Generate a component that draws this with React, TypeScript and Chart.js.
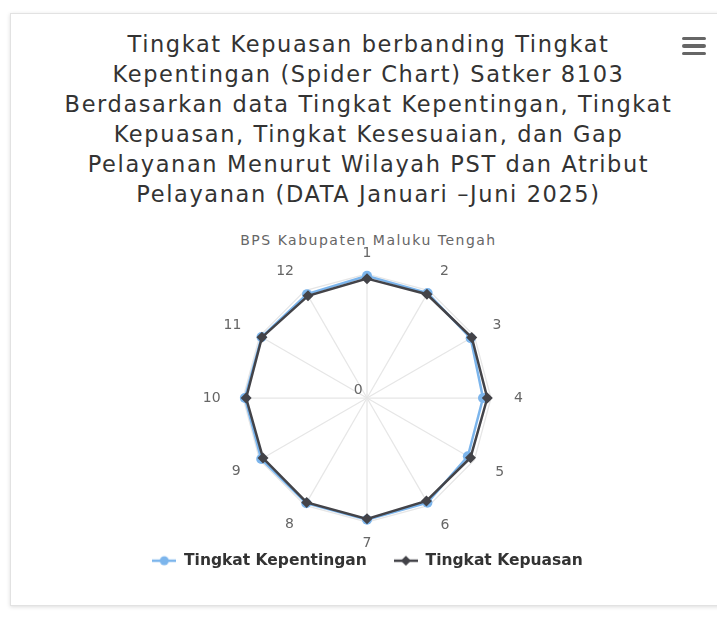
import React, { useEffect, useRef } from 'react';
import { Chart, registerables } from 'chart.js';

Chart.register(...registerables);

// ---- data ----
const categories = ['1', '2', '3', '4', '5', '6', '7', '8', '9', '10', '11', '12'];
const seriesNames = ['Tingkat Kepentingan', 'Tingkat Kepuasan'];
const kepentingan = [9.84, 9.76, 9.63, 9.31, 9.35, 9.73, 9.8, 9.78, 9.84, 9.84, 9.81, 9.65];
const kepuasan = [9.6, 9.64, 9.74, 9.68, 9.61, 9.56, 9.73, 9.71, 9.66, 9.73, 9.77, 9.48];
const axisMax = 10;
const axisLabelValue = 0;
const titleLines = [
  'Tingkat Kepuasan berbanding Tingkat',
  'Kepentingan (Spider Chart) Satker 8103',
  'Berdasarkan data Tingkat Kepentingan, Tingkat',
  'Kepuasan, Tingkat Kesesuaian, dan Gap',
  'Pelayanan Menurut Wilayah PST dan Atribut',
  'Pelayanan (DATA Januari –Juni 2025)',
];
const subtitleText = 'BPS Kabupaten Maluku Tengah';

// ---- styles ----
const FONT = '"DejaVu Sans", sans-serif';
const BLUE = '#7cb5ec';
const DARK = '#434348';
const GRID = '#e6e6e6';
const axisMinOffset = -0.7; // keeps the "0" label slightly above the centre
const labelPadding = [10.4, 22, 21, 23, 24, 23, 11.6, 22, 22, 22.4, 21, 22];
const labelLineHeight = [20.6, 0, 0, 16.8, 0, 0, 19.4, 0, 0, 16.8, 0, 0];

function makeSymbol(color: string, shape: 'circle' | 'diamond') {
  const c = document.createElement('canvas');
  c.width = 24;
  c.height = 12;
  const ctx = c.getContext('2d')!;
  ctx.strokeStyle = color;
  ctx.lineWidth = 2.5;
  ctx.beginPath();
  ctx.moveTo(0, 6);
  ctx.lineTo(24, 6);
  ctx.stroke();
  ctx.fillStyle = color;
  ctx.beginPath();
  if (shape === 'circle') {
    ctx.arc(12, 6, 4.5, 0, Math.PI * 2);
  } else {
    ctx.moveTo(12, 1);
    ctx.lineTo(17, 6);
    ctx.lineTo(12, 11);
    ctx.lineTo(7, 6);
    ctx.closePath();
  }
  ctx.fill();
  return c;
}

export default function App() {
  const ref = useRef<HTMLCanvasElement>(null);

  useEffect(() => {
    if (!ref.current) return;
    const symBlue = makeSymbol(BLUE, 'circle');
    const symDark = makeSymbol(DARK, 'diamond');
    const chart = new Chart(ref.current, {
      type: 'radar',
      data: {
        labels: categories,
        datasets: [
          {
            label: seriesNames[0],
            data: kepentingan,
            borderColor: BLUE,
            backgroundColor: BLUE,
            pointBackgroundColor: BLUE,
            pointBorderColor: BLUE,
            pointBorderWidth: 0,
            pointStyle: 'circle',
            pointRadius: 5,
            borderWidth: 2.5,
            fill: false,
            order: 1,
          },
          {
            label: seriesNames[1],
            data: kepuasan,
            borderColor: DARK,
            backgroundColor: DARK,
            pointBackgroundColor: DARK,
            pointBorderColor: DARK,
            pointBorderWidth: 0,
            pointStyle: 'rectRot',
            pointRadius: 5.5,
            borderWidth: 2.5,
            fill: false,
            order: 0,
          },
        ],
      },
      options: {
        animation: false,
        responsive: false,
        devicePixelRatio: 1,
        layout: { padding: { top: 243, bottom: 43.5, left: 18, right: 0 } },
        elements: { line: { tension: 0 } },
        scales: {
          r: {
            min: axisMinOffset,
            max: axisMax,
            afterBuildTicks: (s: any) => {
              s.ticks = [axisMinOffset, axisLabelValue, axisMax].map((v) => ({ value: v }));
            },
            ticks: {
              display: true,
              showLabelBackdrop: false,
              backdropPadding: -7,
              font: { family: FONT, size: 14 },
              color: '#666666',
              callback: (v: any) => (v === axisLabelValue ? String(axisLabelValue) + '    ' : ''),
            },
            grid: {
              color: (c: any) => (c.tick && c.tick.value === axisMax ? GRID : 'rgba(0,0,0,0)'),
              lineWidth: 1.25,
            },
            angleLines: { color: GRID, lineWidth: 1.25 },
            pointLabels: {
              font: (c: any) => ({ family: FONT, size: 14, lineHeight: labelLineHeight[c.index] + 'px' }),
              color: '#666666',
              padding: (c: any) => labelPadding[c.index],
            },
          },
        },
        plugins: {
          tooltip: { enabled: false },
          legend: {
            position: 'bottom',
            labels: {
              usePointStyle: true,
              pointStyleWidth: 24,
              padding: 0,
              font: { family: FONT, size: 15.5, weight: 'bold' },
              color: '#333333',
              generateLabels: () => [
                {
                  text: seriesNames[0] + '     ',
                  pointStyle: symBlue as any,
                  fillStyle: BLUE,
                  strokeStyle: BLUE,
                  lineWidth: 0,
                  hidden: false,
                  datasetIndex: 0,
                  fontColor: '#333333',
                },
                {
                  text: seriesNames[1],
                  pointStyle: symDark as any,
                  fillStyle: DARK,
                  strokeStyle: DARK,
                  lineWidth: 0,
                  hidden: false,
                  datasetIndex: 1,
                  fontColor: '#333333',
                },
              ],
            },
          },
        },
      } as any,
    });
    return () => chart.destroy();
  }, []);

  return (
    <div style={{ position: 'absolute', left: 0, top: 0, width: 717, height: 622, overflow: 'hidden', background: '#ffffff' }}>
      <div
        style={{
          position: 'absolute',
          left: 10,
          top: 13,
          width: 720,
          height: 591,
          border: '1px solid #e2e2e2',
          boxShadow: '0 1px 4px rgba(0,0,0,0.14)',
          background: '#ffffff',
        }}
      />
      <div
        style={{
          position: 'absolute',
          left: 0,
          top: 29,
          width: 737,
          textAlign: 'center',
          fontFamily: FONT,
          fontSize: 22.5,
          lineHeight: '30px',
          letterSpacing: '1.6px',
          color: '#333333',
        }}
      >
        {titleLines.map((l, i) => (
          <div key={i}>{l}</div>
        ))}
      </div>
      <div
        style={{
          position: 'absolute',
          left: 0,
          top: 231,
          width: 737,
          textAlign: 'center',
          fontFamily: FONT,
          fontSize: 14,
          lineHeight: '18px',
          letterSpacing: '1.5px',
          color: '#666666',
        }}
      >
        {subtitleText}
      </div>
      {[0, 1, 2].map((i) => (
        <div
          key={i}
          style={{
            position: 'absolute',
            left: 682,
            top: 36.5 + i * 7.5,
            width: 24,
            height: 3.5,
            borderRadius: 2,
            background: '#666666',
          }}
        />
      ))}
      <canvas ref={ref} width={717} height={622} style={{ position: 'absolute', left: 0, top: 0 }} />
    </div>
  );
}
